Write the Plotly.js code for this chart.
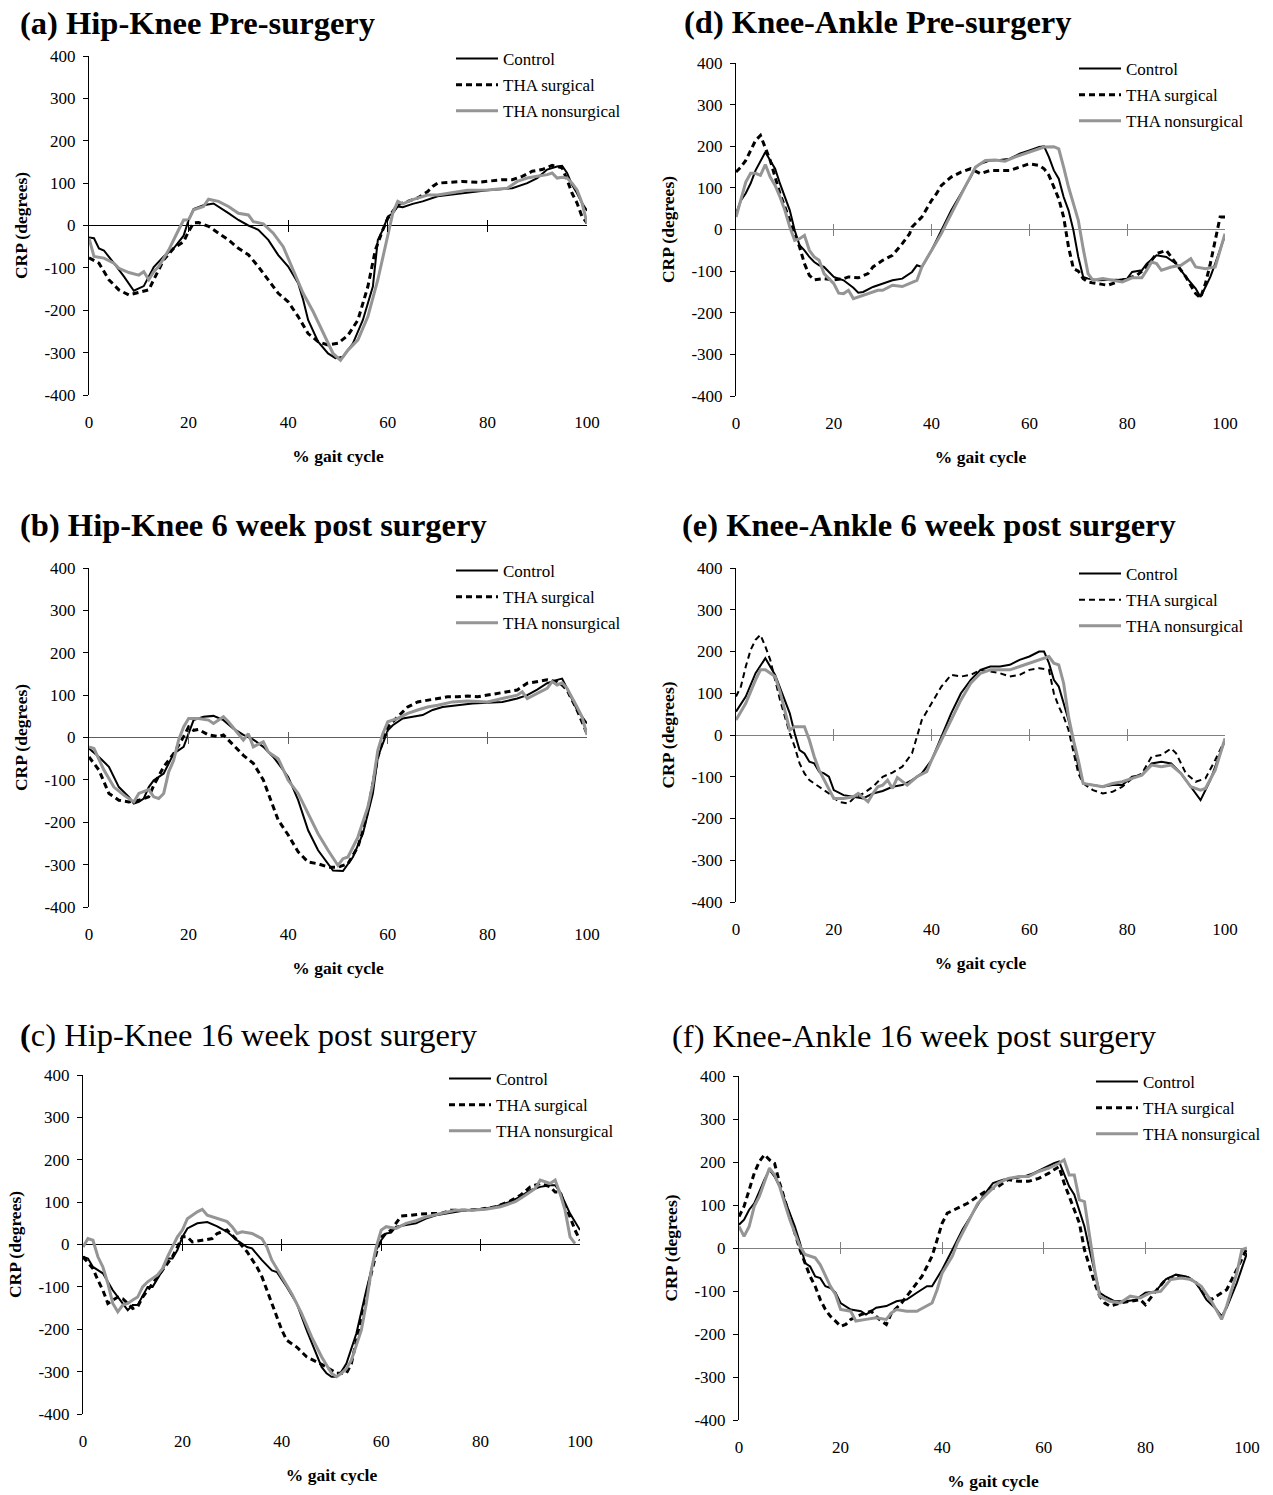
<!DOCTYPE html>
<html>
<head>
<meta charset="utf-8">
<script src="https://cdn.plot.ly/plotly-3.0.1.min.js"></script>
<style>
  html, body { margin: 0; padding: 0; background: #ffffff; }
  #chart { width: 1273px; height: 1495px; }
</style>
</head>
<body>
<div id="chart"></div>
<script>
// Continuous relative phase (CRP, degrees) over the gait cycle (%)
const seriesNames = ['Control', 'THA surgical', 'THA nonsurgical'];
const xTicks = [0, 20, 40, 60, 80, 100];
const yTicks = [-400, -300, -200, -100, 0, 100, 200, 300, 400];
const yTickText = ['-400', '-300', '-200', '-100', '0', '100', '200', '300', '400'];

// (a) Hip-Knee pre-surgery
const aCtrlX = [0,1,2,3,5,7,9,11,13,15,17,19,20,21,23,25,28,30,32,34,36,38,40,42,43,44,46,48,49.5,51,53,55,57,58,59,60,61,62,63,65,67,70,75,80,85,88,90,92,94,95,96,97,98,99,100];
const aCtrlY = [-28,-30,-54,-59,-89,-120,-154,-143,-98,-73,-54,-24,13,39,48,52,29,13,0,-10,-34,-70,-97,-136,-175,-223,-274,-302,-313,-310,-278,-223,-144,-34,-10,21,29,45,43,51,57,69,76,83,88,100,112,132,139,141,124,96,76,53,35];
const aSurgX = [0,2,4,6,8,10,12,13,15,17,19,20,21,22,24,26,28,30,32,34,36,38,40,42,44,46,48,50,52,54,56,57.5,59,60,62,64,66,68,69,70,72,75,78,80,83,85,87,89,91,93,95,96,97,98,99,100];
const aSurgY = [-76,-89,-128,-152,-164,-158,-152,-128,-81,-54,-38,-14,6,7,-2,-18,-34,-54,-69,-97,-128,-160,-180,-215,-255,-274,-282,-278,-259,-223,-144,-58,-10,17,49,57,65,80,92,100,102,104,102,104,108,108,116,128,132,142,136,108,76,53,21,6];
const aNonX = [0,1,3,5,6,8,10,11,12,13,14,16,18,19,20,21,23,24,26,28,30,32,33,35,37,39,41,43,45,47,49,50.5,52,54,56,58,60,61,62,63,65,68,70,73,76,80,84,86,88,90,92,93,94,95,96,97,98,99,100];
const aNonY = [-30,-73,-77,-89,-101,-111,-117,-109,-128,-109,-97,-58,-10,13,13,37,45,62,57,45,29,25,9,4,-18,-50,-105,-160,-203,-251,-302,-318,-294,-270,-215,-128,-18,29,57,51,61,72,72,78,83,84,88,104,112,116,120,124,112,114,112,100,84,53,6];

// (b) Hip-Knee 6 weeks post surgery
const bCtrlX = [0,2,4,6,8,9,10,11,12,13,15,17,19,20,21,23,25,27,29,31,33,35,37,38,40,42,44,46,48,49,51,53,55,57,58,59,60,61,62,63,65,67,69,71,74,77,80,83,86,88,90,92,94,95,96,98,100];
const bCtrlY = [-26,-46,-69,-117,-140,-156,-152,-144,-117,-101,-85,-38,-22,9,41,49,51,41,21,6,-5,-22,-46,-61,-93,-148,-219,-266,-298,-314,-315,-282,-227,-132,-46,-14,17,29,37,45,49,53,65,72,76,80,82,84,92,100,113,128,136,139,116,65,33];
const bSurgX = [0,2,4,6,8,10,12,13,15,17,19,20,21,22,24,26,27,29,31,33,35,36,38,40,42,44,46,48,50,52,54,55,56,57,58,59,60,62,64,66,68,70,72,74,76,78,80,82,84,86,88,90,92,94,95,96,98,100];
const bSurgY = [-46,-77,-132,-148,-152,-148,-140,-113,-69,-38,2,25,17,19,6,2,6,-18,-42,-61,-100,-132,-195,-230,-270,-294,-298,-306,-306,-298,-258,-219,-172,-109,-46,-6,25,49,72,84,88,92,96,96,98,96,100,104,108,112,128,132,136,132,124,112,65,9];
const bNonX = [0,1,3,5,7,9,10,11,12,13,14,15,16,17,18,19,20,22,24,25,26,27,28,30,31,32,33,35,36,38,40,42,44,46,48,50,51,52,54,56,57,58,59,60,62,64,66,68,70,73,76,80,83,86,87,88,90,92,93,94,95,96,98,99,100];
const bNonY = [-22,-26,-77,-117,-136,-152,-132,-128,-123,-140,-144,-132,-81,-54,-6,25,45,45,41,33,41,49,37,9,-6,9,-22,-10,-34,-50,-101,-132,-180,-227,-266,-302,-286,-282,-235,-164,-109,-30,9,37,45,57,65,72,76,84,86,84,92,100,108,92,104,116,132,124,129,116,72,49,6];

// (c) Hip-Knee 16 weeks post surgery
const cCtrlX = [0,1,2,4,6,8,9,10,11,13,14,16,17,18,19,20,21,23,25,27,29,31,33,34,36,38,39,41,43,45,47,48,49,50,51,52,53,55,57,58,59,60,61,62,63,65,67,69,71,74,77,80,83,86,88,90,92,94,95,96,98,100];
const cCtrlY = [-29,-33,-53,-68,-108,-139,-155,-143,-143,-100,-100,-61,-33,-33,-13,18,38,50,53,43,30,10,-6,-9,-37,-61,-65,-100,-139,-202,-257,-289,-304,-312,-312,-300,-281,-210,-108,-61,-13,10,26,28,42,46,50,61,69,75,81,83,89,101,113,128,136,140,140,124,73,34];
const cSurgX = [0,2,3,4,5,6,7,8,9,10,11,12,14,16,18,19,20,21,22,24,26,27,29,31,33,35,36,38,39,40,41,43,45,47,49,51,53,54,55,56,57,58,59,60,62,64,66,68,70,72,74,77,80,83,86,88,90,92,94,95,96,97,98,99,100];
const cSurgY = [-29,-57,-84,-108,-139,-131,-124,-128,-139,-151,-147,-124,-92,-61,-29,-6,18,18,6,10,14,26,34,10,-17,-53,-76,-139,-171,-202,-226,-242,-265,-277,-289,-304,-304,-281,-226,-171,-116,-68,-21,18,34,67,69,72,73,73,81,81,83,89,103,116,136,144,136,124,124,89,65,34,10];
const cNonX = [0,1,2,3,4,5,6,7,8,9,10,11,12,13,15,16,17,18,19,20,21,23,24,25,27,29,30,31,32,34,36,37,38,40,42,44,46,48,50,51,52,53,54,56,57,58,59,60,61,63,65,67,69,72,75,78,81,84,87,89,91,92,93,94,95,96,97,98,99];
const cNonY = [-6,14,10,-29,-53,-92,-139,-159,-143,-139,-131,-124,-100,-88,-72,-57,-29,-6,18,34,61,77,83,69,61,54,42,26,30,26,14,-6,-37,-76,-116,-163,-218,-265,-304,-312,-304,-293,-273,-202,-139,-61,-6,34,42,38,50,56,65,73,81,81,83,89,101,116,132,152,148,144,152,120,81,18,2];

// (d) Knee-Ankle pre-surgery
const dCtrlX = [0,1,2,3,4,5,6,7,8,9,10,11,12,13,14,15,16,17,18,19,20,22,24,25,26,28,30,32,34,36,37,38,40,42,44,46,48,49,50,52,54,56,58,60,62,63,64,65,66,67,68,69,70,71,72,74,76,78,80,81,83,84,86,88,90,92,94,95,96,97,98,99,100];
const dCtrlY = [38,70,87,111,142,166,186,166,146,110,78,46,-2,-38,-50,-66,-78,-86,-90,-102,-114,-122,-140,-152,-150,-138,-130,-122,-118,-102,-86,-90,-50,-2,46,86,126,150,158,166,167,170,182,190,198,200,174,142,122,78,46,-2,-66,-114,-118,-122,-121,-121,-118,-102,-98,-82,-62,-66,-82,-114,-142,-162,-138,-114,-82,-50,-14];
const dSurgX = [0,1,2,3,4,5,6,7,8,9,10,11,12,13,14,15,16,18,20,22,23,25,27,28,30,32,34,35.5,36,38,40,41,42,44,46,48,50,52,54,56,58,60,62,63,64,65,66,67,68,69,70,71,72,74,76,78,80,82,84,86,88,90,92,94,95,96,97,98,99,100];
const dSurgY = [138,150,166,190,214,226,198,166,126,86,54,22,-10,-42,-82,-110,-121,-118,-121,-118,-114,-116,-106,-90,-74,-62,-34,-10,6,30,70,86,106,126,138,146,134,142,142,142,150,158,154,146,130,102,74,30,-42,-94,-100,-118,-126,-130,-134,-126,-118,-110,-90,-58,-50,-82,-114,-154,-164,-130,-82,-26,30,30];
const dNonX = [0,1,2,3,4,5,6,7,8,9,10,11,12,13,14,15,16,17,18,20,21,22,23,24,25,27,29,30,32,34,36,37,38,40,42,43,45,47,49,51,53,55,57,59,61,63,65,66,67,68,69,70,71,72,73,75,77,79,81,83,84,85,86,87,89,91,92,93,94,96,98,99,100];
const dNonY = [30,70,114,135,135,130,156,126,106,78,46,6,-26,-22,-14,-50,-66,-74,-106,-130,-153,-154,-146,-166,-162,-154,-146,-146,-134,-137,-126,-122,-90,-50,-10,14,62,106,150,166,167,164,174,182,190,198,199,194,150,102,62,22,-46,-106,-122,-118,-122,-126,-116,-116,-98,-78,-82,-98,-90,-86,-78,-70,-90,-94,-90,-50,-10];

// (e) Knee-Ankle 6 weeks post surgery
const eCtrlX = [0,2,4,6,8,10,11,12,13,14,15,16,17,18,19,20,22,24,26,28,30,32,34,36,38,40,42,44,46,48,50,52,54,56,58,60,62,63,64,65,66,67,68,69,70,71,73,75,77,79,81,83,85,87,89,91,93,95,97,99,100];
const eCtrlY = [56,92,148,184,144,84,52,4,-36,-44,-64,-68,-88,-92,-100,-132,-144,-148,-152,-140,-134,-124,-120,-108,-92,-60,-4,52,100,132,156,164,164,168,180,188,200,200,172,132,116,76,36,-12,-76,-116,-120,-124,-120,-120,-100,-96,-68,-64,-68,-92,-124,-156,-108,-44,-12];
const eSurgX = [0,1,2,3,4,5,6,7,8,9,10,11,12,13,14,15,17,19,21,23,24,26,28,30,32,34,36,37,38,40,42,44,46,48,50,52,54,56,58,60,62,64,65,66,67,68,69,70,71,73,75,77,79,81,83,85,87,89,90,92,94,96,98,100];
const eSurgY = [92,116,164,204,228,240,212,180,132,84,44,4,-28,-68,-92,-108,-124,-140,-160,-164,-152,-140,-124,-100,-90,-76,-44,-4,36,76,116,144,140,144,156,152,148,140,144,156,160,156,100,68,44,12,-44,-92,-116,-132,-140,-136,-124,-104,-92,-52,-48,-32,-44,-92,-112,-104,-60,-12];
const eNonX = [0,2,4,5,6,8,9,10,11,12,13,14,15,16,17,18,19,20,22,24,25,27,28,29,30,31,32,33,35,37,39,40,42,44,46,48,50,52,54,56,58,60,62,64,65,66,67,68,69,70,71,73,75,77,79,81,83,85,87,89,91,93,95,96,98,100];
const eNonY = [36,76,132,156,156,140,104,60,12,20,20,20,-12,-52,-84,-108,-132,-152,-152,-148,-140,-160,-140,-124,-120,-108,-128,-102,-120,-100,-88,-60,-12,36,84,124,148,156,156,156,164,172,180,188,172,168,124,44,-12,-60,-116,-120,-124,-116,-112,-104,-96,-72,-76,-72,-92,-124,-132,-128,-84,-8];

// (f) Knee-Ankle 16 weeks post surgery
const fCtrlX = [0,1,2,3,4,5,6,7,8,9,10,11,12,13,14,15,16,17,18,19,20,22,24,25,27,29,31,33,35,37,38,40,42,44,46,48,50,52,54,56,58,60,62,63,64,65,66,67,68,69,70,71,72,74,76,78,80,82,84,86,88,90,92,94,95,96,98,100];
const fCtrlY = [54,66,89,104,131,159,182,166,143,112,81,50,12,-35,-43,-66,-70,-89,-93,-104,-128,-143,-147,-155,-139,-135,-124,-120,-104,-89,-89,-50,-4,43,81,120,151,159,162,166,174,186,197,201,174,143,124,89,50,-4,-58,-104,-112,-124,-124,-121,-104,-101,-73,-62,-66,-81,-120,-143,-159,-139,-81,-12];
const fSurgX = [0,1,2,3,4,5,6,7,8,9,10,11,12,13,14,15,16,17,18,19,20,21,22,24,26,27,28,29,30,32,34,36,37,38,39,40,41,43,45,47,49,51,53,55,57,59,61,62,63,64,65,66,67,68,69,70,71,72,73,75,77,79,80,82,84,86,88,90,92,93,94,96,98,100];
const fSurgY = [73,97,135,174,201,217,205,197,151,112,73,35,-4,-35,-66,-89,-120,-143,-159,-170,-182,-178,-166,-155,-147,-159,-170,-178,-151,-128,-97,-66,-43,-19,19,58,81,93,104,120,135,143,159,155,155,162,174,182,189,151,120,89,58,-4,-43,-81,-112,-128,-135,-128,-124,-120,-132,-101,-73,-66,-66,-81,-112,-120,-112,-97,-50,0];
const fNonX = [0,1,2,3,4,5,6,7,8,9,10,11,12,13,14,15,16,17,18,19,20,22,23,25,27,29,30,31,33,35,37,38,39,40,42,43,45,47,49,51,53,55,57,59,61,63,64,65,66,67,68,69,70,71,73,75,77,79,81,83,85,87,89,91,93,95,96,98,99,100];
const fNonY = [50,27,50,97,120,151,186,170,143,104,66,35,4,-15,-19,-23,-39,-66,-89,-108,-143,-147,-170,-166,-162,-166,-151,-143,-147,-147,-135,-128,-97,-58,-19,12,58,104,128,151,162,166,166,178,186,197,205,170,170,112,108,27,-50,-112,-124,-128,-112,-116,-104,-101,-73,-70,-73,-89,-124,-166,-135,-58,-4,0];

// ---- page geometry (pixels) ----
const W = 1273, H = 1495;
const FONT = 'Liberation Serif, Times New Roman, serif';
const GRAY = '#959595';

const panels = [
  { title: '<b>(a) Hip-Knee Pre-surgery</b>', tx: 18, ty: 23,
    px: [89, 587], py: [56, 395], zero: '#000000', leg: [456, 58], surgDash: '6px,4px', surgW: 3,
    data: [[aCtrlX, aCtrlY], [aSurgX, aSurgY], [aNonX, aNonY]] },
  { title: '<b>(b) Hip-Knee 6 week post surgery</b>', tx: 18, ty: 525,
    px: [89, 587], py: [568, 907], zero: '#5e5e5e', leg: [456, 570], surgDash: '6px,4px', surgW: 3,
    data: [[bCtrlX, bCtrlY], [bSurgX, bSurgY], [bNonX, bNonY]] },
  { title: '<b>(</b>c) Hip-Knee 16 week post surgery', tx: 18, ty: 1035,
    px: [83, 580], py: [1075, 1414], zero: '#000000', leg: [449, 1078], surgDash: '6px,4px', surgW: 3,
    data: [[cCtrlX, cCtrlY], [cSurgX, cSurgY], [cNonX, cNonY]] },
  { title: '<b>(d) Knee-Ankle Pre-surgery</b>', tx: 682, ty: 22,
    px: [736, 1225], py: [63, 396], zero: '#808080', leg: [1079, 68], surgDash: '6px,4px', surgW: 3,
    data: [[dCtrlX, dCtrlY], [dSurgX, dSurgY], [dNonX, dNonY]] },
  { title: '<b>(e) Knee-Ankle 6 week post surgery</b>', tx: 680, ty: 525,
    px: [736, 1225], py: [568, 902], zero: '#808080', leg: [1079, 573], surgDash: '6px,4px', surgW: 2,
    data: [[eCtrlX, eCtrlY], [eSurgX, eSurgY], [eNonX, eNonY]] },
  { title: '(f) Knee-Ankle 16 week post surgery', tx: 670, ty: 1036,
    px: [739, 1247], py: [1076, 1420], zero: '#808080', leg: [1096, 1081], surgDash: '6px,4px', surgW: 3,
    data: [[fCtrlX, fCtrlY], [fSurgX, fSurgY], [fNonX, fNonY]] }
];

const traces = [];
const layout = {
  width: W, height: H,
  margin: { l: 0, r: 0, t: 0, b: 0 },
  paper_bgcolor: '#ffffff', plot_bgcolor: 'rgba(0,0,0,0)',
  font: { family: FONT, color: '#000000', size: 17 },
  annotations: [],
  hovermode: false
};

panels.forEach((p, i) => {
  const n = i + 1;
  const ov = n + 6;
  const xs = n === 1 ? '' : String(n);
  const xd = [p.px[0] / W, p.px[1] / W];
  const yd = [1 - p.py[1] / H, 1 - p.py[0] / H];
  const mid = (yd[0] + yd[1]) / 2;

  layout['xaxis' + xs] = {
    domain: xd, range: [0, 100], anchor: 'y' + xs,
    tickvals: xTicks, ticks: '', showline: false, showgrid: false, zeroline: false,
    tickfont: { family: FONT, size: 17, color: '#000' }, ticklabelstandoff: 15,
    title: { text: '% gait cycle', font: { family: FONT, size: 17.5, weight: 'bold', color: '#000' }, standoff: 18 }
  };
  layout['yaxis' + xs] = {
    domain: yd, range: [-400, 400], anchor: 'x' + xs,
    tickvals: yTicks, ticktext: yTickText, ticks: 'outside', ticklen: 5, tickcolor: '#000', tickwidth: 1,
    showline: true, linecolor: '#000', linewidth: 1, showgrid: false,
    zeroline: true, zerolinecolor: p.zero, zerolinewidth: 1,
    tickfont: { family: FONT, size: 17, color: '#000' }, ticklabelstandoff: 4,
    title: { text: 'CRP (degrees)', font: { family: FONT, size: 17.5, weight: 'bold', color: '#000' }, standoff: 12 }
  };
  // tick marks that cross the zero line
  layout['xaxis' + ov] = {
    overlaying: 'x' + xs, anchor: 'free', position: mid - 6 / H,
    range: [0, 100], tickvals: xTicks, ticks: 'inside', ticklen: 12, tickcolor: p.zero, tickwidth: 1,
    showticklabels: false, showline: false, showgrid: false, zeroline: false
  };
  traces.push({ x: [], y: [], xaxis: 'x' + ov, yaxis: 'y' + xs, type: 'scatter', mode: 'lines', showlegend: false, hoverinfo: 'skip' });

  const legName = n === 1 ? 'legend' : 'legend' + n;
  layout[legName] = {
    x: (p.leg[0] - 5) / W, y: 1 - (p.leg[1] - 17) / H, xanchor: 'left', yanchor: 'top',
    bgcolor: 'rgba(0,0,0,0)', borderwidth: 0, itemwidth: 42,
    font: { family: FONT, size: 17, color: '#000' }, tracegroupgap: 1, traceorder: 'grouped'
  };

  const styles = [
    { color: '#000000', width: 2 },
    { color: '#000000', width: p.surgW, dash: p.surgDash },
    { color: GRAY, width: 3 }
  ];
  p.data.forEach((d, k) => {
    traces.push({
      x: d[0], y: d[1], type: 'scatter', mode: 'lines', name: seriesNames[k],
      xaxis: 'x' + xs, yaxis: 'y' + xs, legend: legName, legendgroup: legName + '-' + k,
      line: styles[k], hoverinfo: 'skip'
    });
  });

  layout.annotations.push({
    xref: 'paper', yref: 'paper', x: p.tx / W, y: 1 - p.ty / H,
    xanchor: 'left', yanchor: 'middle', showarrow: false, text: p.title,
    font: { family: FONT, size: 32.5, color: '#000' }
  });
});

Plotly.newPlot('chart', traces, layout, { staticPlot: true, displayModeBar: false });
</script>
</body>
</html>
